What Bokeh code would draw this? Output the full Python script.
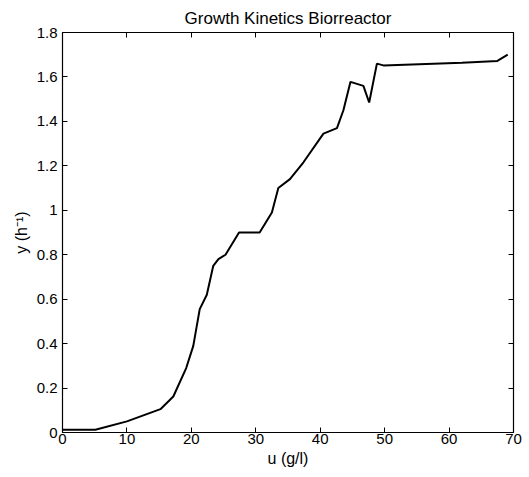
from bokeh.plotting import figure
from bokeh.models import LinearAxis, FixedTicker, Range1d
from bokeh.embed import file_html
from bokeh.resources import INLINE

# substrate concentration u (g/l) and specific growth rate y (1/h)
u_values = [0, 5.1, 10, 15.2, 17.2, 19.2, 20.3, 21.3, 22.4, 23.4, 24.2, 25.3,
            27.4, 30.6, 32.5, 33.5, 35.3, 37.4, 40.5, 42.6, 43.6, 44.7, 46.7,
            47.6, 48.8, 49.8, 62, 67.5, 69.1]
y_values = [0.012, 0.012, 0.05, 0.105, 0.162, 0.29, 0.39, 0.555, 0.62, 0.75,
            0.78, 0.80, 0.90, 0.90, 0.99, 1.10, 1.14, 1.216, 1.345, 1.37, 1.45,
            1.578, 1.56, 1.485, 1.66, 1.652, 1.664, 1.672, 1.70]

x_ticks = [0, 10, 20, 30, 40, 50, 60, 70]
y_ticks = [0, 0.2, 0.4, 0.6, 0.8, 1.0, 1.2, 1.4, 1.6, 1.8]
y_tick_labels = {0: "0", 0.2: "0.2", 0.4: "0.4", 0.6: "0.6", 0.8: "0.8",
                 1.0: "1", 1.2: "1.2", 1.4: "1.4", 1.6: "1.6", 1.8: "1.8"}

FONT = "Liberation Sans"

p = figure(width=529, height=477, output_backend="svg", toolbar_location=None,
           x_range=Range1d(0, 70), y_range=Range1d(0, 1.8),
           title="Growth Kinetics Biorreactor",
           min_border_left=62, min_border_right=16,
           min_border_top=32, min_border_bottom=45)

p.title.align = "center"
p.title.text_font = FONT
p.title.text_font_size = "17px"
p.title.text_font_style = "normal"
p.title.text_color = "black"
p.title.standoff = 10

p.xgrid.visible = False
p.ygrid.visible = False
p.outline_line_color = "black"
p.outline_line_width = 1.2
p.background_fill_color = "white"
p.border_fill_color = "white"

def style_axis(ax, labels=True):
    ax.axis_line_color = "black"
    ax.major_tick_in = 5
    ax.major_tick_out = 0
    ax.minor_tick_line_color = None
    ax.major_tick_line_color = "black"
    ax.major_label_text_font = FONT
    ax.major_label_text_font_size = "15px"
    ax.major_label_text_color = "black"
    ax.axis_label_text_font = FONT
    ax.axis_label_text_font_size = "16px"
    ax.axis_label_text_font_style = "normal"
    ax.axis_label_text_color = "black"
    if not labels:
        ax.major_label_text_font_size = "0px"
        ax.major_label_text_color = None
        ax.major_label_standoff = 0

xa = p.xaxis[0]
xa.ticker = FixedTicker(ticks=x_ticks)
xa.axis_label = "u (g/l)"
xa.major_label_standoff = 1
xa.axis_label_standoff = 3
style_axis(xa)

ya = p.yaxis[0]
ya.ticker = FixedTicker(ticks=y_ticks)
ya.major_label_overrides = y_tick_labels
ya.axis_label = "y (h\u207b\u00b9)"
ya.major_label_standoff = 5
ya.axis_label_standoff = 4
style_axis(ya)

top = LinearAxis(ticker=FixedTicker(ticks=x_ticks))
style_axis(top, labels=False)
p.add_layout(top, "above")
right = LinearAxis(ticker=FixedTicker(ticks=y_ticks))
style_axis(right, labels=False)
p.add_layout(right, "right")

p.line(u_values, y_values, line_color="black", line_width=2)

open("out.html", "w").write(file_html(p, INLINE))
